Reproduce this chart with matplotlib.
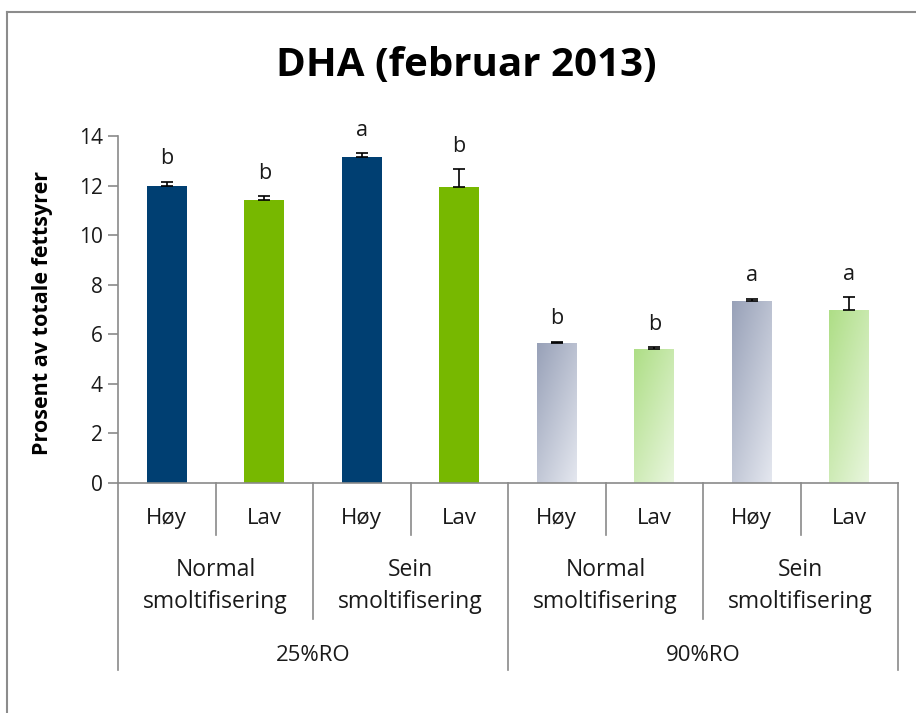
import numpy as np
import matplotlib
matplotlib.use("Agg")
import matplotlib.pyplot as plt
from matplotlib.colors import LinearSegmentedColormap
from matplotlib.lines import Line2D

plt.rcParams['font.family'] = ['Open Sans', 'DejaVu Sans']

# ---- data ----
treatments = ["Høy", "Lav", "Høy", "Lav", "Høy", "Lav", "Høy", "Lav"]
smolt_groups = ["Normal\nsmoltifisering", "Sein\nsmoltifisering",
                "Normal\nsmoltifisering", "Sein\nsmoltifisering"]
ro_groups = ["25%RO", "90%RO"]
values = [12.0, 11.4, 13.15, 11.95, 5.65, 5.4, 7.35, 7.0]
errors = [0.15, 0.18, 0.15, 0.7, 0.05, 0.07, 0.08, 0.5]
letters = ["b", "b", "a", "b", "b", "b", "a", "a"]
yticks = [0, 2, 4, 6, 8, 10, 12, 14]

title = "DHA (februar 2013)"
ylabel = "Prosent av totale fettsyrer"

# ---- styles ----
solid_colors = ["#003F72", "#77B800"]
grad_colors = [("#98A1B8", "#E4E7EF"), ("#AEDE86", "#E9F6DE")]
text_color = "#1a1a1a"
axis_color = "#8a8a8a"

W, H = 916, 713
fig = plt.figure(figsize=(W / 100, H / 100), dpi=100)
ax = fig.add_axes([118 / W, 1 - 483 / H, (898 - 118) / W, 347 / H])

n = len(values)
x = np.arange(n)
ax.set_xlim(-0.5, n - 0.5)
ax.set_ylim(0, 14)

bw = 0.41
fcolors = [solid_colors[i % 2] for i in range(n)]
bars = ax.bar(x, values, width=bw, color=fcolors, zorder=2)

# gradient fill for the 90%RO bars
gsz = 64
u, v = np.meshgrid(np.linspace(0, 1, gsz), np.linspace(0, 1, gsz))
grad = (0.45 * u + 0.55 * v)
for i, b in enumerate(bars):
    if i >= 4:
        c0, c1 = grad_colors[i % 2]
        cmap = LinearSegmentedColormap.from_list("g%d" % i, [c0, c1])
        b.set_facecolor("none")
        b.set_edgecolor("none")
        x0 = b.get_x()
        x1 = x0 + b.get_width()
        h = b.get_height()
        im = ax.imshow(grad, cmap=cmap, extent=(x0, x1, 0, h), origin="upper",
                       aspect="auto", zorder=2, interpolation="bilinear")
        im.set_clip_path(b)
ax.set_xlim(-0.5, n - 0.5)
ax.set_ylim(0, 14)

# error bars (upper only)
ax.errorbar(x, values, yerr=[np.zeros(n), errors], fmt="none", ecolor="black",
            elinewidth=1.2, capsize=4.5, capthick=1.2, zorder=3)

# significance letters
for xi, v_, e, l in zip(x, values, errors, letters):
    ax.annotate(l, (xi, v_ + e), xytext=(0, 12.5), textcoords="offset points",
                ha="center", va="baseline", fontsize=15.5, color=text_color)

# axes styling
for s in ["top", "right"]:
    ax.spines[s].set_visible(False)
ax.spines["left"].set_color(axis_color)
ax.spines["bottom"].set_color(axis_color)
ax.spines["left"].set_linewidth(1.2)
ax.spines["bottom"].set_linewidth(1.2)
ax.set_yticks(yticks)
ax.set_yticklabels([str(t) for t in yticks])
ax.tick_params(axis="y", direction="out", length=7, width=1.2, color=axis_color,
               labelsize=15, labelcolor=text_color, pad=4)
ax.set_xticks([])

fig.text(43 / W, 1 - 313 / H, ylabel, rotation=90, ha="center", va="center",
         fontsize=15.5, fontweight="bold", color="black")

# multi-level category axis
tr = ax.get_xaxis_transform()
for i in range(n + 1):
    if i % 4 == 0:
        yend = -0.539
    elif i % 2 == 0:
        yend = -0.392
    else:
        yend = -0.15
    ax.add_line(Line2D([i - 0.5, i - 0.5], [0, yend], transform=tr, color=axis_color,
                       lw=1.2, clip_on=False))
for i, t in enumerate(treatments):
    ax.text(i, -0.101, t, transform=tr, ha="center", va="center", fontsize=16,
            color=text_color)
for j, t in enumerate(smolt_groups):
    ax.text(2 * j + 0.5, -0.297, t, transform=tr, ha="center", va="center",
            fontsize=16.5, color=text_color, linespacing=1.4)
for k, t in enumerate(ro_groups):
    ax.text(4 * k + 1.5, -0.496, t, transform=tr, ha="center", va="center",
            fontsize=16, color=text_color)

# title
fig.text(466 / W, 1 - 66 / H, title, ha="center", va="center", fontsize=29,
         fontweight="bold", color="black")

# outer chart border (left and top visible)
fig.add_artist(Line2D([6.5 / W, 6.5 / W], [0, 1 - 12 / H], transform=fig.transFigure,
                      color="#8c8c8c", lw=1.5))
fig.add_artist(Line2D([6.5 / W, 1], [1 - 12 / H, 1 - 12 / H], transform=fig.transFigure,
                      color="#8c8c8c", lw=1.5))

fig.savefig("out.png", dpi=100)
